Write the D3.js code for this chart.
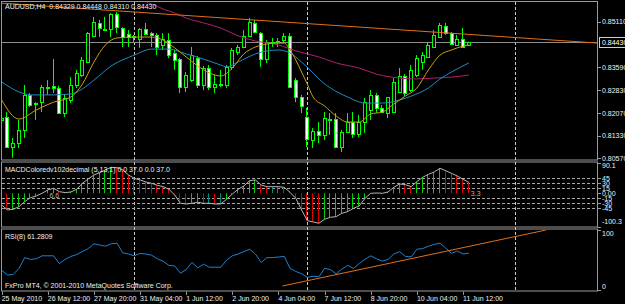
<!DOCTYPE html>
<html>
<head>
<meta charset="utf-8">
<script src="https://cdn.jsdelivr.net/npm/d3@7"></script>
<style>
    html, body { margin: 0; padding: 0; background: #000; }
    svg { display: block; font-family: "Liberation Sans", Arial, sans-serif; }
</style>
</head>
<body>
<div id="container"></div>
<script>
"use strict";

const WIDTH = 625;
const HEIGHT = 304;

// AUDUSD H4, 25 May 2010 04:00 .. 11 Jun 2010 16:00 (one entry per bar)
const OPEN = [0.8185, 0.8195, 0.8095, 0.8108, 0.8152, 0.8268, 0.8241, 0.8244, 0.8294, 0.8298,
    0.8291, 0.8208, 0.8251, 0.8301, 0.8334, 0.8377, 0.8464, 0.8507, 0.8487, 0.8487,
    0.8537, 0.8490, 0.8470, 0.8460, 0.8454, 0.8487, 0.8473, 0.8467, 0.8434, 0.8450,
    0.8407, 0.8387, 0.8294, 0.8317, 0.8390, 0.8301, 0.8357, 0.8294, 0.8304, 0.8301,
    0.8361, 0.8410, 0.8427, 0.8464, 0.8507, 0.8473, 0.8387, 0.8444, 0.8445, 0.8450,
    0.8464, 0.8317, 0.8261, 0.8195, 0.8118, 0.8148, 0.8135, 0.8188, 0.8188, 0.8095,
    0.8145, 0.8178, 0.8138, 0.8178, 0.8218, 0.8268, 0.8225, 0.8208, 0.8211, 0.8278,
    0.8331, 0.8284, 0.8334, 0.8377, 0.8394, 0.8427, 0.8460, 0.8497, 0.8473, 0.8434,
    0.8454, 0.84329];
const HIGH = [0.8218, 0.8211, 0.8125, 0.8185, 0.8301, 0.8274, 0.8244, 0.8301, 0.8317, 0.8387,
    0.8298, 0.8268, 0.8327, 0.8351, 0.8394, 0.8477, 0.8527, 0.8517, 0.8527, 0.8540,
    0.8543, 0.8493, 0.8483, 0.8467, 0.8490, 0.8507, 0.8477, 0.8473, 0.8473, 0.8473,
    0.8417, 0.8390, 0.8344, 0.8427, 0.8397, 0.8364, 0.8367, 0.8334, 0.8351, 0.8367,
    0.8424, 0.8434, 0.8483, 0.8523, 0.8517, 0.8477, 0.8450, 0.8457, 0.8457, 0.8473,
    0.8473, 0.8324, 0.8268, 0.8225, 0.8158, 0.8178, 0.8211, 0.8208, 0.8208, 0.8152,
    0.8208, 0.8211, 0.8201, 0.8258, 0.8284, 0.8274, 0.8234, 0.8261, 0.8324, 0.8357,
    0.8337, 0.8367, 0.8400, 0.8410, 0.8444, 0.8483, 0.8507, 0.8507, 0.8477, 0.8467,
    0.8490, 0.84448];
const LOW = [0.8162, 0.8092, 0.8059, 0.8092, 0.8125, 0.8228, 0.8185, 0.8211, 0.8268, 0.8274,
    0.8205, 0.8195, 0.8241, 0.8291, 0.8327, 0.8374, 0.8460, 0.8460, 0.8483, 0.8460,
    0.8473, 0.8427, 0.8427, 0.8440, 0.8424, 0.8467, 0.8427, 0.8400, 0.8417, 0.8390,
    0.8351, 0.8274, 0.8278, 0.8311, 0.8291, 0.8284, 0.8284, 0.8274, 0.8294, 0.8291,
    0.8351, 0.8400, 0.8424, 0.8460, 0.8473, 0.8361, 0.8374, 0.8427, 0.8427, 0.8440,
    0.8291, 0.8244, 0.8208, 0.8095, 0.8092, 0.8108, 0.8118, 0.8135, 0.8092, 0.8078,
    0.8142, 0.8125, 0.8128, 0.8142, 0.8185, 0.8208, 0.8208, 0.8191, 0.8208, 0.8274,
    0.8264, 0.8278, 0.8327, 0.8351, 0.8390, 0.8424, 0.8457, 0.8467, 0.8434, 0.8430,
    0.8424, 0.84310];
const CLOSE = [0.8191, 0.8095, 0.8108, 0.8152, 0.8268, 0.8234, 0.8238, 0.8294, 0.8295, 0.8291,
    0.8208, 0.8258, 0.8301, 0.8341, 0.8384, 0.8473, 0.8510, 0.8490, 0.8488, 0.8537,
    0.8493, 0.8460, 0.8460, 0.8464, 0.8487, 0.8470, 0.8467, 0.8427, 0.8454, 0.8400,
    0.8384, 0.8294, 0.8334, 0.8400, 0.8301, 0.8357, 0.8294, 0.8304, 0.8305, 0.8361,
    0.8417, 0.8427, 0.8464, 0.8510, 0.8477, 0.8387, 0.8444, 0.8443, 0.8447, 0.8464,
    0.8294, 0.8261, 0.8231, 0.8122, 0.8148, 0.8135, 0.8191, 0.8189, 0.8095, 0.8145,
    0.8178, 0.8138, 0.8178, 0.8244, 0.8268, 0.8225, 0.8211, 0.8261, 0.8311, 0.8331,
    0.8274, 0.8351, 0.8390, 0.8400, 0.8434, 0.8467, 0.8500, 0.8473, 0.8437, 0.8454,
    0.8427, 0.84430];

// moving averages: [bar, price]
const MA_FAST = [[0, 0.8251], [3, 0.8188], [6, 0.8218], [9, 0.8244], [12, 0.8261], [14, 0.8304],
    [16, 0.8377], [18, 0.8434], [20, 0.8457], [23, 0.8460], [26, 0.8460], [28, 0.8450], [30, 0.8424],
    [32, 0.8394], [34, 0.8364], [36, 0.8341], [38, 0.8331], [40, 0.8357], [42, 0.8404], [44, 0.8427],
    [46, 0.8437], [48, 0.8440], [49, 0.8440], [50, 0.8417], [51, 0.8384], [52, 0.8344], [53, 0.8304],
    [54, 0.8261], [56, 0.8231], [58, 0.8198], [60, 0.8178], [62, 0.8178], [64, 0.8205], [66, 0.8211],
    [68, 0.8238], [70, 0.8264], [72, 0.8291], [74, 0.8351], [76, 0.8400], [78, 0.8417], [80, 0.8430],
    [81, 0.8434]];
const MA_MID = [[0, 0.8311], [3, 0.8278], [5, 0.8268], [9, 0.8268], [12, 0.8271], [14, 0.8288],
    [16, 0.8317], [19, 0.8364], [23, 0.8400], [26, 0.8420], [29, 0.8420], [32, 0.8404], [35, 0.8387],
    [38, 0.8367], [39, 0.8361], [41, 0.8377], [44, 0.8404], [48, 0.8417], [50, 0.8407], [52, 0.8377],
    [54, 0.8341], [55, 0.8321], [57, 0.8291], [60, 0.8261], [63, 0.8241], [66, 0.8241], [69, 0.8251],
    [71, 0.8264], [74, 0.8291], [76, 0.8321], [78, 0.8344], [81, 0.8374]];
const MA_SLOW = [[24, 0.8583], [26, 0.8570], [28, 0.8553], [30, 0.8540], [32, 0.8523], [35, 0.8507],
    [38, 0.8490], [41, 0.8464], [44, 0.8447], [48, 0.8434], [51, 0.8414], [55, 0.8394], [58, 0.8374],
    [62, 0.8357], [65, 0.8337], [69, 0.8324], [72, 0.8321], [75, 0.8324], [78, 0.8327], [81, 0.8334]];

const PRICE_TREND = [[-0.3, 0.8573], [103.4, 0.8440]];

const MACD = [-35, -50, -48, -40, -25, -13, -8, 0, 10, 15, 5, 2, 4, 12, 30, 43, 55, 62, 70, 78,
    77, 70, 55, 45, 40, 34, 30, 24, 20, 12, -5, -30, -32, -30, -27, -30, -30, -32, -32, -18,
    -2, 12, 22, 38, 40, 25, 20, 20, 20, 18, 3, -15, -50, -82, -86, -90, -78, -72, -70, -60,
    -55, -45, -38, -15, 0, 1, 0, 4, 18, 28, 26, 20, 35, 48, 57, 64, 75, 68, 60, 52,
    42, 33];
const MACD_LEVELS = [45, 30, 15, -15, -30, -45];
const MACD_TICKS = [90.1, 45, 30, 15, 0, -15, -30, -45, -100.3];

const RSI = [33, 25, 26, 36, 54, 51, 52, 57, 57, 57, 44, 51, 56, 59, 64, 69, 77, 75, 73, 77,
    78, 62, 60, 57, 61, 60, 58, 52, 48, 41, 40, 28, 34, 46, 37, 43, 38, 38, 38, 50,
    57, 60, 64, 68, 60, 46, 54, 54, 55, 56, 36, 31, 27, 21, 23, 22, 36, 34, 27, 35,
    41, 36, 44, 51, 57, 52, 48, 51, 60, 64, 56, 55, 68, 69, 73, 76, 78, 70, 61, 65,
    60, 61.28];
const RSI_TREND = [[48.7, 6.7], [94.4, 100]];
const RSI_TICKS = [100, 0];

const PRICE_TICKS = [0.85110, 0.83590, 0.82830, 0.82070, 0.81330, 0.80570];
const BID = 0.84430;

const TIME_TICKS = [0, 8, 16, 24, 32, 40, 48, 56, 64, 72, 80];
const TIME_LABELS = ["25 May 2010", "26 May 12:00", "27 May 20:00", "31 May 04:00", "1 Jun 12:00",
    "2 Jun 20:00", "4 Jun 04:00", "7 Jun 12:00", "8 Jun 20:00", "10 Jun 04:00", "11 Jun 12:00"];
const SEPARATORS = [23, 53, 89];

const MAIN_TITLE = "AUDUSD,H4  0.84329 0.84448 0.84310 0.84430";
const MACD_TITLE = "MACDColoredv102decimal (5,13,1) 0.0 37.0 0.0 37.0";
const RSI_TITLE = "RSI(8) 61.2809";
const COPYRIGHT = "FxPro MT4, \u00a9 2001-2010 MetaQuotes Software Corp.";

const LEFT = 1.66;
const RIGHT = 597.7;
const MAIN = { top: 2, bottom: 160.5 };
const SUB1 = { top: 162.5, bottom: 227.5 };
const SUB2 = { top: 229.5, bottom: 291.5 };

const FG = "#f0f0f0";
const FRAME = "#9a9a9a";
const ORANGE = "#e07018";

const SVG = d3.select("div#container").append("svg")
    .attr("width", WIDTH)
    .attr("height", HEIGHT)
    .style("background", "#000");

const xScale = d3.scaleLinear().domain([0, 103.35]).range([LEFT, RIGHT]);
const yPrice = d3.scaleLinear().domain([0.80520, 0.85730]).range([160, 3]);
const yMacd = d3.scaleLinear().domain([-100.3, 90.1]).range([226.7, 163.3]);
const yRsi = d3.scaleLinear().domain([0, 100]).range([290, 230]);

const px = v => Math.round(v) + 0.5;

init();

function init() {
    addClips();
    drawFrames();
    drawSeparators();
    drawMain();
    drawMacd();
    drawRsi();
    drawTimeAxis();
}

function addClips() {
    const defs = SVG.append("defs");
    [["clipMain", MAIN], ["clipSub1", SUB1], ["clipSub2", SUB2]].forEach(function ([id, p]) {
        defs.append("clipPath").attr("id", id)
            .append("rect")
            .attr("x", 2).attr("y", p.top + 0.5)
            .attr("width", RIGHT - 2.5).attr("height", p.bottom - p.top - 1);
    });
}

function drawFrames() {
    [MAIN, SUB1, SUB2].forEach(function (p) {
        SVG.append("rect")
            .attr("x", 1.5).attr("y", p.top - 0.5)
            .attr("width", 596).attr("height", p.bottom - p.top)
            .attr("fill", "none")
            .attr("stroke", FRAME);
    });
}

function drawSeparators() {
    SVG.append("g").selectAll("line")
        .data(SEPARATORS)
        .join("line")
        .attr("x1", d => px(xScale(d))).attr("x2", d => px(xScale(d)))
        .attr("y1", 2).attr("y2", 291)
        .attr("stroke", "#c8c8c8")
        .attr("stroke-dasharray", "3,2");
}

function drawMain() {
    const g = SVG.append("g").attr("clip-path", "url(#clipMain)");

    // bid line
    g.append("line")
        .attr("x1", 2).attr("x2", RIGHT)
        .attr("y1", px(yPrice(BID))).attr("y2", px(yPrice(BID)))
        .attr("stroke", "#8c8c8c");

    const bars = d3.range(OPEN.length);

    g.append("g").selectAll("line")
        .data(bars)
        .join("line")
        .attr("x1", i => Math.round(xScale(i)) - 0.5)
        .attr("x2", i => Math.round(xScale(i)) - 0.5)
        .attr("y1", i => yPrice(HIGH[i]))
        .attr("y2", i => yPrice(LOW[i]))
        .attr("stroke", "#00ff00");

    g.append("g").selectAll("rect")
        .data(bars)
        .join("rect")
        .attr("x", i => Math.round(xScale(i)) - 1.5)
        .attr("width", 3)
        .attr("y", i => Math.round(yPrice(Math.max(OPEN[i], CLOSE[i]))) + 0.5)
        .attr("height", i => Math.max(1, Math.round(Math.abs(yPrice(OPEN[i]) - yPrice(CLOSE[i])))))
        .attr("fill", i => CLOSE[i] >= OPEN[i] ? "#000" : "#fff")
        .attr("stroke", "#00ff00");

    const maLine = d3.line()
        .x(d => xScale(d[0]))
        .y(d => yPrice(d[1]))
        .curve(d3.curveMonotoneX);

    [[MA_SLOW, "#b0206e"], [MA_MID, "#1e8cc0"], [MA_FAST, "#c8a010"]].forEach(function ([data, color]) {
        g.append("path")
            .attr("d", maLine(data))
            .attr("fill", "none")
            .attr("stroke", color);
    });

    g.append("path")
        .attr("d", d3.line().x(d => xScale(d[0])).y(d => yPrice(d[1]))(PRICE_TREND))
        .attr("fill", "none")
        .attr("stroke", ORANGE);

    // price scale
    const axis = SVG.append("g").attr("font-size", 7).attr("fill", FG);
    axis.selectAll("line")
        .data(PRICE_TICKS)
        .join("line")
        .attr("x1", 597.5).attr("x2", 601)
        .attr("y1", d => px(yPrice(d))).attr("y2", d => px(yPrice(d)))
        .attr("stroke", FRAME);
    axis.selectAll("text")
        .data(PRICE_TICKS)
        .join("text")
        .attr("x", 602)
        .attr("y", d => yPrice(d))
        .attr("dy", "0.35em")
        .text(d => d.toFixed(5));

    const bidY = yPrice(BID);
    SVG.append("rect")
        .attr("x", 599.5).attr("y", Math.round(bidY) - 4.5)
        .attr("width", 30).attr("height", 10)
        .attr("fill", "#000")
        .attr("stroke", "#d0d0d0");
    SVG.append("text")
        .attr("x", 602).attr("y", bidY)
        .attr("dy", "0.35em")
        .attr("font-size", 7)
        .attr("fill", "#fff")
        .text(BID.toFixed(5));

    SVG.append("text")
        .attr("x", 5).attr("y", 9)
        .attr("font-size", 7)
        .attr("fill", FG)
        .attr("xml:space", "preserve")
        .text(MAIN_TITLE);
}

function drawMacd() {
    const g = SVG.append("g").attr("clip-path", "url(#clipSub1)");

    g.append("g").selectAll("line")
        .data(MACD_LEVELS)
        .join("line")
        .attr("x1", 2).attr("x2", RIGHT)
        .attr("y1", d => px(yMacd(d))).attr("y2", d => px(yMacd(d)))
        .attr("stroke", "#a8a8a8")
        .attr("stroke-dasharray", "3,2");

    g.append("g").selectAll("line")
        .data(d3.range(MACD.length))
        .join("line")
        .attr("x1", i => Math.round(xScale(i)) - 0.5)
        .attr("x2", i => Math.round(xScale(i)) - 0.5)
        .attr("y1", yMacd(0))
        .attr("y2", i => yMacd(MACD[i]))
        .attr("stroke", function (i) {
            if (i === 0 || MACD[i] < MACD[i - 1]) return "#e00000";
            if (MACD[i] > MACD[i - 1]) return "#00d000";
            return "#008a80";
        });

    g.append("path")
        .attr("d", d3.line().x((d, i) => xScale(i)).y(d => yMacd(d))(MACD))
        .attr("fill", "none")
        .attr("stroke", "#b4b4b4");

    g.append("text")
        .attr("x", xScale(8.3)).attr("y", yMacd(-15))
        .attr("font-size", 7).attr("fill", "#b4b4b4")
        .text("6.6");
    g.append("text")
        .attr("x", xScale(81) + 2).attr("y", yMacd(0))
        .attr("dy", "0.35em")
        .attr("font-size", 7).attr("fill", "#b4b4b4")
        .text("3.3");

    g.append("text")
        .attr("x", 5).attr("y", 172)
        .attr("font-size", 7).attr("fill", FG)
        .text(MACD_TITLE);

    const axis = SVG.append("g").attr("font-size", 7).attr("fill", FG);
    axis.selectAll("line")
        .data(MACD_TICKS)
        .join("line")
        .attr("x1", 597.5).attr("x2", 601)
        .attr("y1", d => px(yMacd(d))).attr("y2", d => px(yMacd(d)))
        .attr("stroke", FRAME);
    axis.selectAll("text")
        .data(MACD_TICKS)
        .join("text")
        .attr("x", 602)
        .attr("y", d => yMacd(d))
        .attr("dy", d => d === 90.1 ? "0.7em" : (d === -100.3 ? "-0.4em" : "0.35em"))
        .text(d => d === 0 ? "0.00" : d);
}

function drawRsi() {
    const g = SVG.append("g").attr("clip-path", "url(#clipSub2)");

    g.append("path")
        .attr("d", d3.line().x((d, i) => xScale(i)).y(d => yRsi(d))(RSI))
        .attr("fill", "none")
        .attr("stroke", "#2080d0");

    g.append("path")
        .attr("d", d3.line().x(d => xScale(d[0])).y(d => yRsi(d[1]))(RSI_TREND))
        .attr("fill", "none")
        .attr("stroke", ORANGE);

    g.append("text")
        .attr("x", 5).attr("y", 239)
        .attr("font-size", 7).attr("fill", FG)
        .text(RSI_TITLE);

    g.append("text")
        .attr("x", 5).attr("y", 288)
        .attr("font-size", 7).attr("fill", FG)
        .text(COPYRIGHT);

    const axis = SVG.append("g").attr("font-size", 7).attr("fill", FG);
    axis.selectAll("line")
        .data(RSI_TICKS)
        .join("line")
        .attr("x1", 597.5).attr("x2", 601)
        .attr("y1", d => px(yRsi(d))).attr("y2", d => px(yRsi(d)))
        .attr("stroke", FRAME);
    axis.selectAll("text")
        .data(RSI_TICKS)
        .join("text")
        .attr("x", 602)
        .attr("y", d => yRsi(d))
        .attr("dy", d => d === 100 ? "0.9em" : "-0.2em")
        .text(d => d);
}

function drawTimeAxis() {
    const axis = SVG.append("g").attr("font-size", 7).attr("fill", FG);
    axis.selectAll("line")
        .data(TIME_TICKS)
        .join("line")
        .attr("x1", d => px(xScale(d))).attr("x2", d => px(xScale(d)))
        .attr("y1", 291.5).attr("y2", 295)
        .attr("stroke", FRAME);
    axis.selectAll("text")
        .data(TIME_TICKS)
        .join("text")
        .attr("x", d => xScale(d))
        .attr("y", 301)
        .text((d, i) => TIME_LABELS[i]);
}
</script>
</body>
</html>
